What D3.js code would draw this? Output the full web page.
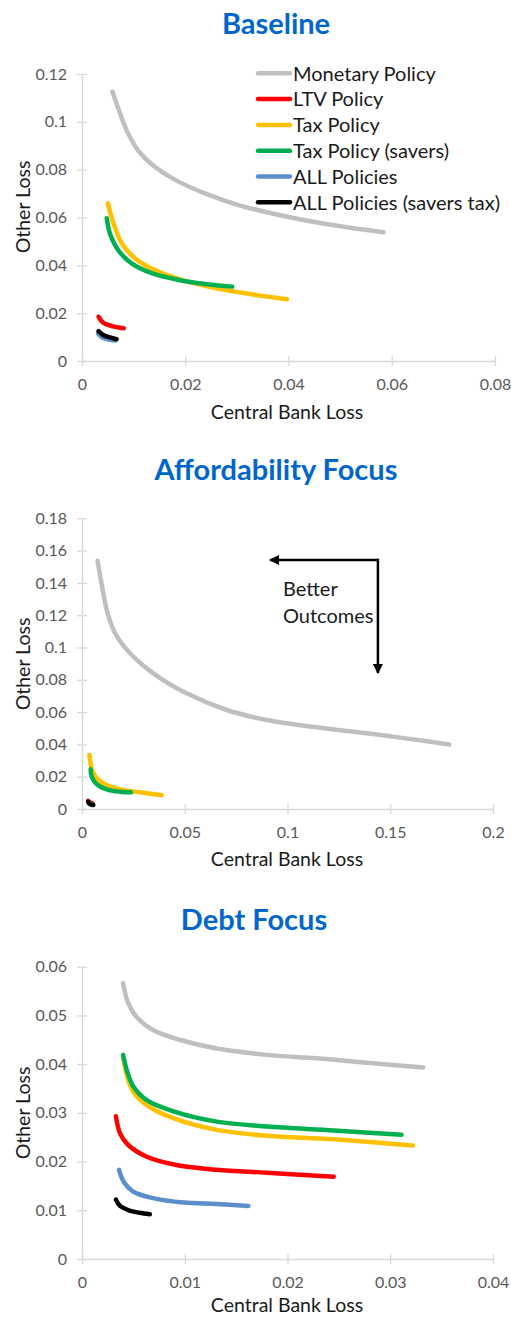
<!DOCTYPE html>
<html>
<head>
<meta charset="utf-8">
<script src="https://cdn.jsdelivr.net/npm/d3@7"></script>
<style>
  html, body { margin: 0; padding: 0; background: #fff; }
  svg { display: block; }
  text { font-family: Lato, "Open Sans", sans-serif; }
</style>
</head>
<body>
<svg id="chart" width="511" height="1318"></svg>
<script>
// ---------- DATA ----------
const seriesNames = ["Monetary Policy", "LTV Policy", "Tax Policy", "Tax Policy (savers)", "ALL Policies", "ALL Policies (savers tax)"];
const seriesColors = ["#BFBFBF", "#FF0000", "#FFC000", "#00B050", "#5B8FC9", "#000000"];

const panelTitles = ["Baseline", "Affordability Focus", "Debt Focus"];

// Baseline panel: [Central Bank Loss, Other Loss]
const baseMonetary = [[0.0059,0.1126],[0.0073,0.1040],[0.0088,0.0958],[0.0109,0.0880],[0.0141,0.0812],[0.0187,0.0750],[0.0238,0.0701],[0.0303,0.0652],[0.0367,0.0618],[0.0445,0.0583],[0.0516,0.0558],[0.0584,0.0538]];
const baseLTV = [[0.0032,0.0185],[0.0041,0.0160],[0.0058,0.0146],[0.0081,0.0137]];
const baseTax = [[0.0050,0.0659],[0.0061,0.0576],[0.0077,0.0492],[0.0103,0.0429],[0.0141,0.0380],[0.0193,0.0339],[0.0251,0.0308],[0.0316,0.0283],[0.0397,0.0258]];
const baseTaxSavers = [[0.0048,0.0597],[0.0054,0.0534],[0.0070,0.0464],[0.0096,0.0408],[0.0135,0.0367],[0.0187,0.0339],[0.0238,0.0322],[0.0291,0.0311]];
const baseAll = [[0.0031,0.0115],[0.0038,0.0100],[0.0048,0.0092],[0.0064,0.0086]];
const baseAllSavers = [[0.0032,0.0125],[0.0041,0.0109],[0.0054,0.0099],[0.0067,0.0091]];

// Affordability Focus panel
const affMonetary = [[0.0076,0.1537],[0.0096,0.1390],[0.0122,0.1225],[0.0161,0.1088],[0.0234,0.0964],[0.0347,0.0840],[0.0509,0.0716],[0.0704,0.0613],[0.0899,0.0551],[0.1142,0.0506],[0.1385,0.0469],[0.1612,0.0431],[0.1787,0.0400]];
const affLTV = [[0.0030,0.0050],[0.0040,0.0041],[0.0052,0.0035]];
const affTax = [[0.0036,0.0334],[0.0047,0.0251],[0.0072,0.0190],[0.0120,0.0149],[0.0201,0.0118],[0.0298,0.0101],[0.0388,0.0085]];
const affTaxSavers = [[0.0042,0.0246],[0.0047,0.0200],[0.0072,0.0153],[0.0120,0.0122],[0.0185,0.0107],[0.0237,0.0103]];
const affAll = [[0.0032,0.0042],[0.0040,0.0033],[0.0050,0.0028]];
const affAllSavers = [[0.0030,0.0045],[0.0035,0.0033],[0.0045,0.0027],[0.0055,0.0025]];

// Debt Focus panel
const debtMonetary = [[0.0040,0.0566],[0.0045,0.0525],[0.0053,0.0497],[0.0069,0.0470],[0.0095,0.0450],[0.0131,0.0432],[0.0180,0.0419],[0.0228,0.0412],[0.0277,0.0403],[0.0332,0.0393]];
const debtLTV = [[0.0033,0.0293],[0.0037,0.0258],[0.0045,0.0234],[0.0063,0.0210],[0.0092,0.0193],[0.0131,0.0183],[0.0180,0.0177],[0.0245,0.0169]];
const debtTax = [[0.0040,0.0415],[0.0044,0.0374],[0.0050,0.0343],[0.0063,0.0316],[0.0089,0.0289],[0.0131,0.0265],[0.0180,0.0253],[0.0245,0.0246],[0.0322,0.0233]];
const debtTaxSavers = [[0.0040,0.0419],[0.0044,0.0385],[0.0050,0.0354],[0.0063,0.0326],[0.0089,0.0303],[0.0131,0.0282],[0.0180,0.0272],[0.0245,0.0264],[0.0311,0.0255]];
const debtAll = [[0.0036,0.0183],[0.0041,0.0157],[0.0050,0.0138],[0.0069,0.0125],[0.0099,0.0116],[0.0131,0.0113],[0.0162,0.0109]];
const debtAllSavers = [[0.0033,0.0122],[0.0037,0.0109],[0.0047,0.0099],[0.0056,0.0095],[0.0066,0.0092]];

// Axis tick values / labels
const baseXTicks = [0, 0.02, 0.04, 0.06, 0.08];
const baseXLabels = ["0", "0.02", "0.04", "0.06", "0.08"];
const baseYTicks = [0, 0.02, 0.04, 0.06, 0.08, 0.1, 0.12];
const baseYLabels = ["0", "0.02", "0.04", "0.06", "0.08", "0.1", "0.12"];
const affXTicks = [0, 0.05, 0.1, 0.15, 0.2];
const affXLabels = ["0", "0.05", "0.1", "0.15", "0.2"];
const affYTicks = [0, 0.02, 0.04, 0.06, 0.08, 0.1, 0.12, 0.14, 0.16, 0.18];
const affYLabels = ["0", "0.02", "0.04", "0.06", "0.08", "0.1", "0.12", "0.14", "0.16", "0.18"];
const debtXTicks = [0, 0.01, 0.02, 0.03, 0.04];
const debtXLabels = ["0", "0.01", "0.02", "0.03", "0.04"];
const debtYTicks = [0, 0.01, 0.02, 0.03, 0.04, 0.05, 0.06];
const debtYLabels = ["0", "0.01", "0.02", "0.03", "0.04", "0.05", "0.06"];

const xAxisTitle = "Central Bank Loss";
const yAxisTitle = "Other Loss";

// Annotation in Affordability panel (data units)
const arrowCorner = [0.1440, 0.1542];
const arrowLeftTipX = 0.0915;
const arrowBottomTipY = 0.0842;
const annotationLines = ["Better", "Outcomes"];
const annotationPos = [[0.0978, 0.1319], [0.0978, 0.1152]];

// ---------- LAYOUT ----------
const panels = [
  { title: panelTitles[0], titleX: 276, titleY: 34,
    x0: 82, x1: 495, yTop: 74, yBot: 361, xMax: 0.08, yMax: 0.12,
    xTicks: baseXTicks, xLabels: baseXLabels, yTicks: baseYTicks, yLabels: baseYLabels,
    yTitleY: 207, xTitleY: 419,
    series: [baseMonetary, baseLTV, baseTax, baseTaxSavers, baseAll, baseAllSavers],
    drawOrder: [0, 1, 2, 3, 4, 5], legend: true },
  { title: panelTitles[1], titleX: 276, titleY: 480,
    x0: 82, x1: 493, yTop: 518.3, yBot: 809, xMax: 0.2, yMax: 0.18,
    xTicks: affXTicks, xLabels: affXLabels, yTicks: affYTicks, yLabels: affYLabels,
    yTitleY: 664, xTitleY: 866,
    series: [affMonetary, affLTV, affTax, affTaxSavers, affAll, affAllSavers],
    drawOrder: [0, 2, 3, 1, 4, 5], annotation: true },
  { title: panelTitles[2], titleX: 254, titleY: 930,
    x0: 82, x1: 493, yTop: 966.7, yBot: 1259, xMax: 0.04, yMax: 0.06,
    xTicks: debtXTicks, xLabels: debtXLabels, yTicks: debtYTicks, yLabels: debtYLabels,
    yTitleY: 1113, xTitleY: 1312,
    series: [debtMonetary, debtLTV, debtTax, debtTaxSavers, debtAll, debtAllSavers],
    drawOrder: [0, 1, 2, 3, 4, 5] }
];

const svg = d3.select("#chart");
const axisColor = "#D9D9D9";
const tickTextColor = "#595959";
const labelFont = "Lato, 'Open Sans', sans-serif";

panels.forEach(p => {
  const x = d3.scaleLinear().domain([0, p.xMax]).range([p.x0, p.x1]);
  const y = d3.scaleLinear().domain([0, p.yMax]).range([p.yBot, p.yTop]);
  const g = svg.append("g");

  // Title
  g.append("text")
    .attr("x", p.titleX).attr("y", p.titleY)
    .attr("text-anchor", "middle")
    .attr("font-size", 29).attr("font-weight", 700)
    .attr("fill", "#0066CC")
    .text(p.title);

  // X axis
  const xAxis = d3.axisBottom(x).tickValues(p.xTicks)
    .tickFormat((d, i) => p.xLabels[i]).tickSizeInner(5).tickSizeOuter(0).tickPadding(13);
  const gx = g.append("g").attr("transform", `translate(0,${p.yBot})`).call(xAxis);
  gx.select(".domain").attr("stroke", axisColor).attr("stroke-width", 1.3);
  gx.selectAll(".tick line").attr("stroke", axisColor).attr("stroke-width", 1.3).attr("y1", -5);
  gx.selectAll(".tick text").attr("fill", tickTextColor).attr("font-size", 16)
    .attr("font-family", labelFont);

  // Y axis
  const yAxis = d3.axisLeft(y).tickValues(p.yTicks)
    .tickFormat((d, i) => p.yLabels[i]).tickSizeInner(5).tickSizeOuter(0).tickPadding(10);
  const gy = g.append("g").attr("transform", `translate(${p.x0},0)`).call(yAxis);
  gy.select(".domain").attr("stroke", axisColor).attr("stroke-width", 1.3);
  gy.selectAll(".tick line").attr("stroke", axisColor).attr("stroke-width", 1.3).attr("x1", 5);
  gy.selectAll(".tick text").attr("fill", tickTextColor).attr("font-size", 16)
    .attr("font-family", labelFont);

  // Axis titles
  g.append("text")
    .attr("x", 287).attr("y", p.xTitleY)
    .attr("text-anchor", "middle").attr("font-size", 19.5).attr("fill", "#1a1a1a")
    .text(xAxisTitle);
  g.append("text")
    .attr("transform", `translate(30,${p.yTitleY}) rotate(-90)`)
    .attr("text-anchor", "middle").attr("font-size", 19.5).attr("fill", "#1a1a1a")
    .text(yAxisTitle);

  // Lines
  const line = d3.line().x(d => x(d[0])).y(d => y(d[1])).curve(d3.curveCatmullRom.alpha(0.5));
  p.drawOrder.forEach(i => {
    g.append("path")
      .datum(p.series[i])
      .attr("d", line)
      .attr("fill", "none")
      .attr("stroke", seriesColors[i])
      .attr("stroke-width", 4.5)
      .attr("stroke-linecap", "round")
      .attr("stroke-linejoin", "round");
  });

  // Legend
  if (p.legend) {
    const lg = g.append("g");
    seriesNames.forEach((name, i) => {
      const cy = 73.3 + i * 25.8;
      lg.append("line").attr("x1", 258).attr("x2", 290).attr("y1", cy).attr("y2", cy)
        .attr("stroke", seriesColors[i]).attr("stroke-width", 4.5).attr("stroke-linecap", "round");
      lg.append("text").attr("x", 293).attr("y", cy + 7.2)
        .attr("font-size", 20).attr("fill", "#1a1a1a").text(name);
    });
  }

  // Annotation arrow
  if (p.annotation) {
    const defs = svg.append("defs");
    defs.append("marker").attr("id", "arrowhead")
      .attr("viewBox", "0 0 10 10").attr("refX", 9).attr("refY", 5)
      .attr("markerWidth", 4.2).attr("markerHeight", 4.2)
      .attr("markerUnits", "strokeWidth")
      .attr("orient", "auto")
      .append("path").attr("d", "M0,0 L10,5 L0,10 z").attr("fill", "#000");
    const cx = x(arrowCorner[0]), cy = y(arrowCorner[1]);
    g.append("line").attr("x1", cx).attr("y1", cy).attr("x2", x(arrowLeftTipX)).attr("y2", cy)
      .attr("stroke", "#000").attr("stroke-width", 2.5).attr("marker-end", "url(#arrowhead)");
    g.append("line").attr("x1", cx).attr("y1", cy - 1.25).attr("x2", cx).attr("y2", y(arrowBottomTipY))
      .attr("stroke", "#000").attr("stroke-width", 2.5).attr("marker-end", "url(#arrowhead)");
    annotationLines.forEach((t, i) => {
      g.append("text").attr("x", x(annotationPos[i][0])).attr("y", y(annotationPos[i][1]))
        .attr("font-size", 20).attr("fill", "#1a1a1a").text(t);
    });
  }
});
</script>
</body>
</html>
